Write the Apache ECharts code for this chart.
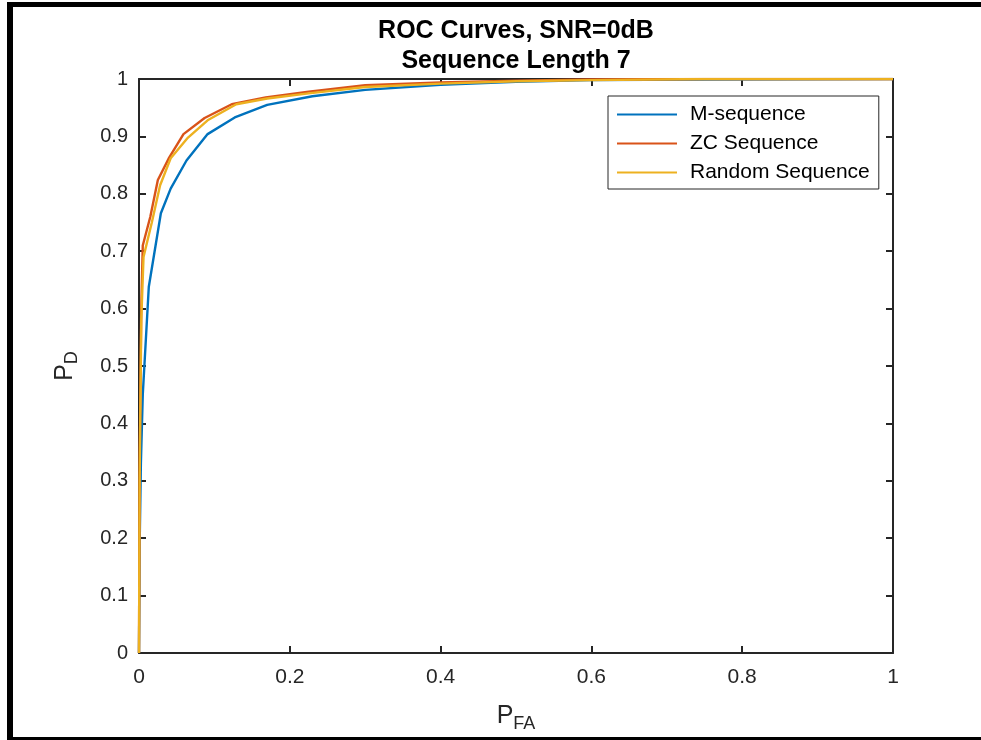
<!DOCTYPE html>
<html>
<head>
<meta charset="utf-8">
<script src="https://cdn.jsdelivr.net/npm/echarts@6/dist/echarts.min.js"></script>
<style>
 html, body { margin: 0; padding: 0; background: #fff; }
 #main { width: 981px; height: 740px; }
</style>
</head>
<body>
<div id="main"></div>
<script>
 // 数据: [P_FA, P_D]
 var seriesNames = ['M-sequence', 'ZC Sequence', 'Random Sequence'];
 var mSequence = [[0,0],[0.001,0.2],[0.0025,0.33],[0.005,0.45],[0.013,0.638],[0.029,0.766],[0.042,0.809],[0.063,0.858],[0.091,0.904],[0.127,0.933],[0.17,0.955],[0.23,0.97],[0.3,0.981],[0.4,0.99],[0.5,0.995],[0.6,0.998],[0.75,0.999],[1,1]];
 var zcSequence = [[0,0],[0.001,0.35],[0.003,0.6],[0.005,0.71],[0.015,0.76],[0.025,0.824],[0.04,0.863],[0.059,0.904],[0.087,0.932],[0.123,0.956],[0.168,0.968],[0.225,0.978],[0.3,0.989],[0.4,0.994],[0.5,0.997],[0.6,0.999],[0.75,1],[1,1]];
 var randomSequence = [[0,0],[0.0008,0.3],[0.003,0.58],[0.006,0.69],[0.017,0.75],[0.028,0.815],[0.042,0.862],[0.065,0.898],[0.091,0.928],[0.129,0.956],[0.17,0.966],[0.225,0.975],[0.3,0.986],[0.4,0.992],[0.5,0.996],[0.6,0.998],[0.75,1],[1,1]];
 var titleLines = ['ROC Curves, SNR=0dB', 'Sequence Length 7'];

 var myChart = echarts.init(document.getElementById('main'), null, {renderer: 'canvas'});
 var font = '"Liberation Sans", Arial, sans-serif';
 var axisColor = '#262626';

 function frameAxis(extra) {
   var a = {
     min: 0, max: 1,
     axisLine: {show: true, onZero: false, lineStyle: {color: axisColor, width: 2}},
     axisTick: {show: true, inside: true, length: 7, lineStyle: {color: axisColor, width: 2}},
     splitLine: {show: false},
     axisLabel: {show: false}
   };
   for (var k in extra) a[k] = extra[k];
   return a;
 }

 var option = {
   animation: false,
   backgroundColor: '#fff',
   grid: {left: 139, top: 79, width: 754, height: 574, containLabel: false},
   graphic: [
     {type: 'rect', shape: {x: 7, y: 2, width: 6, height: 738}, style: {fill: '#000'}},
     {type: 'rect', shape: {x: 7, y: 2, width: 974, height: 5}, style: {fill: '#000'}},
     {type: 'rect', shape: {x: 7, y: 737, width: 974, height: 3}, style: {fill: '#000'}},
     {type: 'text', x: 516, y: 31, style: {text: titleLines[0], font: 'bold 25px ' + font, fill: '#000', align: 'center', verticalAlign: 'middle'}},
     {type: 'text', x: 516, y: 61, style: {text: titleLines[1], font: 'bold 25px ' + font, fill: '#000', align: 'center', verticalAlign: 'middle'}}
   ],
   legend: {
     data: seriesNames,
     orient: 'vertical',
     left: 608, top: 96,
     padding: [8, 9, 6, 9],
     itemGap: 8,
     itemWidth: 60,
     itemHeight: 2,
     icon: 'rect',
     backgroundColor: '#fff',
     borderColor: axisColor,
     borderWidth: 1,
     borderRadius: 0,
     textStyle: {fontFamily: font, fontSize: 21, color: '#000', lineHeight: 20, padding: [0, 0, 0, 8]}
   },
   xAxis: [
     frameAxis({
       type: 'value', position: 'bottom', interval: 0.2,
       axisLabel: {show: true, fontFamily: font, fontSize: 21, color: axisColor, margin: 14},
       name: '{a|P}{b|FA}', nameLocation: 'middle', nameGap: 46,
       nameTextStyle: {rich: {
         a: {fontFamily: font, fontSize: 25, color: axisColor},
         b: {fontFamily: font, fontSize: 18, color: axisColor, padding: [16, 0, 0, 0]}
       }}
     }),
     frameAxis({type: 'value', position: 'top', interval: 0.2})
   ],
   yAxis: [
     frameAxis({
       type: 'value', position: 'left', interval: 0.1,
       axisLabel: {show: true, fontFamily: font, fontSize: 20, color: axisColor, margin: 11},
       name: '{a|P}{b|D}', nameLocation: 'middle', nameGap: 58, nameRotate: 90,
       nameTextStyle: {rich: {
         a: {fontFamily: font, fontSize: 25, color: axisColor},
         b: {fontFamily: font, fontSize: 18, color: axisColor, padding: [14, 0, 0, 0]}
       }}
     }),
     frameAxis({type: 'value', position: 'right', interval: 0.1})
   ],
   series: [
     {name: seriesNames[0], type: 'line', data: mSequence, showSymbol: false, color: '#0072BD', lineStyle: {width: 2.4}},
     {name: seriesNames[1], type: 'line', data: zcSequence, showSymbol: false, color: '#D95319', lineStyle: {width: 2.4}},
     {name: seriesNames[2], type: 'line', data: randomSequence, showSymbol: false, color: '#EDB120', lineStyle: {width: 2.4}}
   ]
 };

 myChart.setOption(option);
 window.onresize = function() {
   myChart.resize();
 };
</script>
</body>
</html>
